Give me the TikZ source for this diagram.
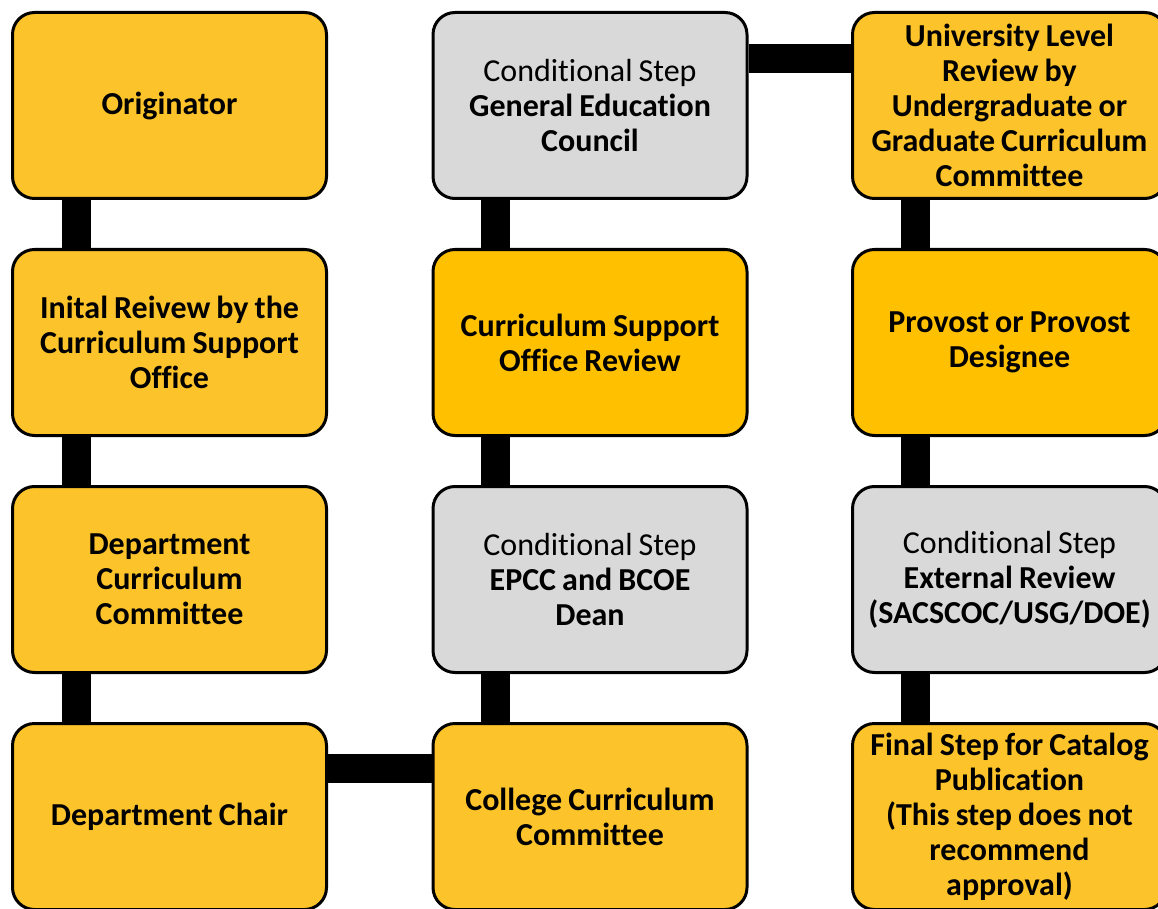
\documentclass[tikz,border=0pt]{standalone}
\usepackage{fontspec}
\setmainfont{Carlito}[Ligatures={NoCommon}]
\usetikzlibrary{backgrounds}
\definecolor{gold}{HTML}{FCC42A}
\definecolor{amber}{HTML}{FFC000}
\definecolor{greybox}{HTML}{D9D9D9}
\tikzset{
  box/.style={draw=black, line width=3pt, rounded corners=22pt,
    minimum width=314pt, minimum height=186pt, text width=312pt,
    align=center, inner sep=0pt,
    font=\fontsize{32}{35}\selectfont\bfseries,
    execute at begin node={\spaceskip=0.19em\relax}},
  goldbox/.style={box, fill=gold},
  amberbox/.style={box, fill=amber},
  greystep/.style={box, fill=greybox},
  bar/.style={line width=29pt, draw=black}
}
\begin{document}
\begin{tikzpicture}[x=1pt,y=-1pt]
\useasboundingbox (0,0) rectangle (1158,909);
\clip (0,0) rectangle (1158,909);
\node[goldbox] (orig) at (169.5,105.5) {Originator};
\node[goldbox] (init) at (169.5,342.5) {Inital Reivew by the\\Curriculum Support\\Office};
\node[goldbox] (dcc) at (169.5,579.5) {Department\\Curriculum\\Committee};
\node[goldbox] (chair) at (169.5,816.5) {Department Chair};
\node[greystep] (gec) at (590,105.5) {{\mdseries Conditional Step}\\General Education\\Council};
\node[amberbox] (cso) at (590,342.5) {Curriculum Support\\Office Review};
\node[greystep] (epcc) at (590,579.5) {{\mdseries Conditional Step}\\EPCC and BCOE\\Dean};
\node[goldbox] (ccc) at (590,816.5) {College Curriculum\\Committee};
\node[goldbox] (univ) at (1009.5,105.5) {University Level\\Review by\\Undergraduate or\\Graduate Curriculum\\Committee};
\node[amberbox] (prov) at (1009.5,342.5) {Provost or Provost\\Designee};
\node[greystep] (ext) at (1009.5,579.5) {{\mdseries Conditional Step}\\External Review\\(SACSCOC/USG/DOE)};
\node[goldbox] (final) at (1009.5,816.5) {Final Step for Catalog\\Publication\\(This step does not\\recommend\\approval)};
\begin{scope}[on background layer]
\draw[bar] ([xshift=-93.5pt]orig.south) -- ([xshift=-93.5pt]init.north);
\draw[bar] ([xshift=-93.5pt]init.south) -- ([xshift=-93.5pt]dcc.north);
\draw[bar] ([xshift=-93.5pt]dcc.south) -- ([xshift=-93.5pt]chair.north);
\draw[bar] ([yshift=48.5pt]chair.east) -- ([yshift=48.5pt]ccc.west);
\draw[bar] ([xshift=-95pt]ccc.north) -- ([xshift=-95pt]epcc.south);
\draw[bar] ([xshift=-95pt]epcc.north) -- ([xshift=-95pt]cso.south);
\draw[bar] ([xshift=-95pt]cso.north) -- ([xshift=-95pt]gec.south);
\draw[bar] ([yshift=46.5pt]gec.east) -- ([yshift=46.5pt]univ.west);
\draw[bar] ([xshift=-94.5pt]univ.south) -- ([xshift=-94.5pt]prov.north);
\draw[bar] ([xshift=-94.5pt]prov.south) -- ([xshift=-94.5pt]ext.north);
\draw[bar] ([xshift=-94.5pt]ext.south) -- ([xshift=-94.5pt]final.north);
\end{scope}
\end{tikzpicture}
\end{document}
